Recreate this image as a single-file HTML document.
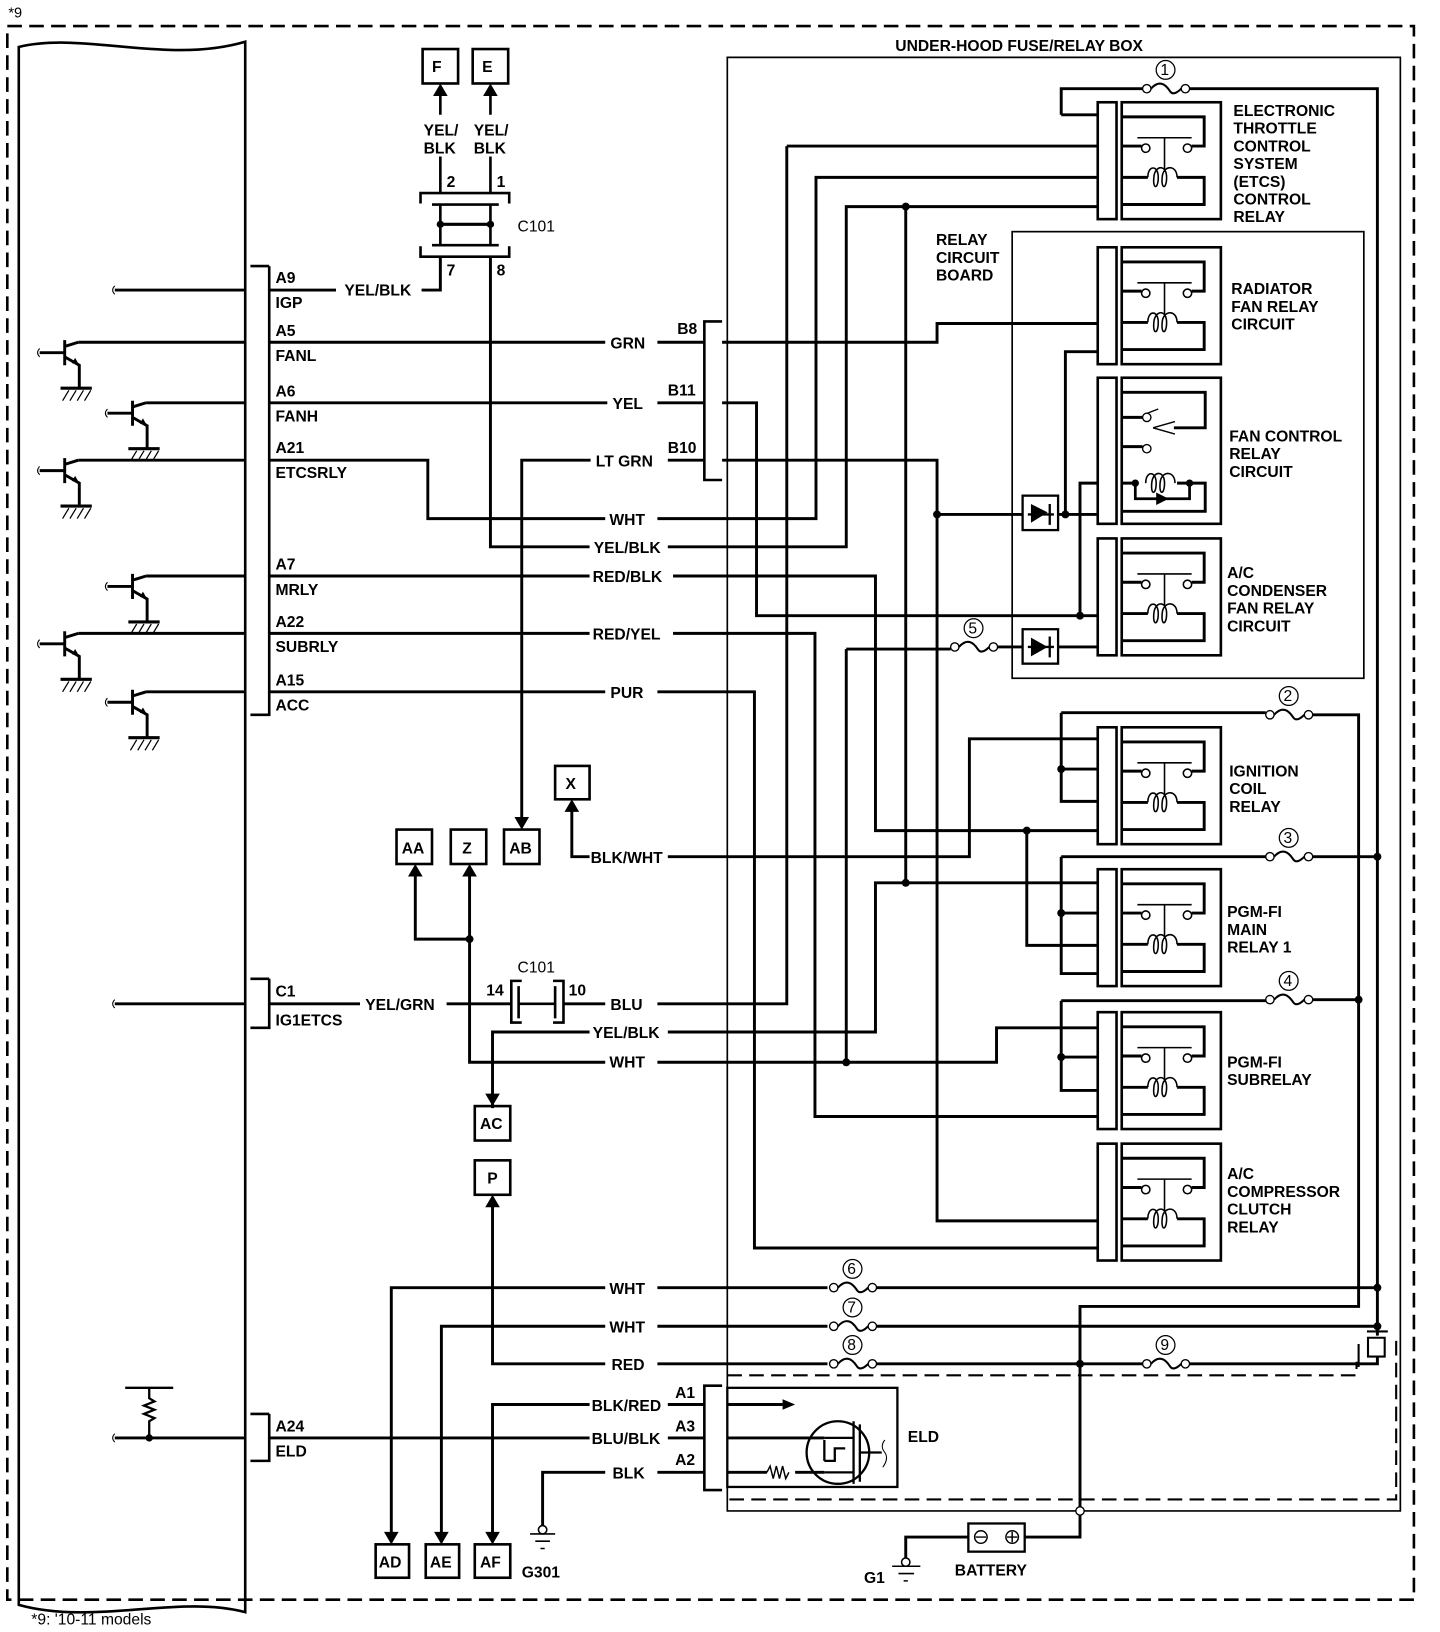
<!DOCTYPE html>
<html><head><meta charset="utf-8"><style>
html,body{margin:0;padding:0;background:#fff;}
svg{display:block;}
text{font-family:"Liberation Sans",Arial,sans-serif;font-size:15px;fill:#000;}
.t{font-weight:bold;}
</style></head><body>
<svg width="1440" height="1632" viewBox="0 0 1380 1564" preserveAspectRatio="none" xmlns="http://www.w3.org/2000/svg">
<defs>
<g id="relay">
 <rect x="-18" y="0" width="18" height="112" fill="none" stroke="#000" stroke-width="2.5"/>
 <rect x="5" y="0" width="95" height="112" fill="none" stroke="#000" stroke-width="2.5"/>
 <path d="M5,14 H84 V42 H72 M5,42 H24 M5,72 H30 M58,72 H84 V98 H5" fill="none" stroke="#000" stroke-width="2.8"/>
 <circle cx="28" cy="44" r="4" fill="#fff" stroke="#000" stroke-width="1.5"/>
 <circle cx="68" cy="44" r="4" fill="#fff" stroke="#000" stroke-width="1.5"/>
 <path d="M20,34 H72 M46,34 V64" stroke="#000" stroke-width="1.5" fill="none"/>
 <path d="M30,72 C30,60 40,60 40,72 C40,84 34,84 36,70 C38,60 48,60 48,72 C48,84 42,84 44,70 C46,60 58,60 58,72" fill="none" stroke="#000" stroke-width="1.5"/>
</g>
<g id="trans">
 <path d="M-24,10 H0 M0,-2 V22 M0,4 L13,0 M0,14 L14,22 V44" fill="none" stroke="#000" stroke-width="2.8"/>
 <path d="M-24,6 q-4,4 0,8" fill="none" stroke="#000" stroke-width="1"/>
 <path d="M14,22 l-7,-2 l3,-5 z" fill="#000"/>
 <path d="M-4,44 H26" stroke="#000" stroke-width="3"/>
 <path d="M-2,56 L4,46 M5,56 L11,46 M12,56 L18,46 M19,56 L25,46" stroke="#000" stroke-width="1.2"/>
</g>
<g id="fuse">
 <circle cx="4" cy="0" r="4" fill="#fff" stroke="#000" stroke-width="1.3"/>
 <circle cx="41" cy="0" r="4" fill="#fff" stroke="#000" stroke-width="1.3"/>
 <path d="M8,0 C16,-9 22,-4 26,2 C29,7 34,3 37,0" fill="none" stroke="#000" stroke-width="2"/>
 <circle cx="22" cy="-18" r="9" fill="none" stroke="#000" stroke-width="1.2"/>
</g>
</defs>

<!-- outer dashed frame -->
<text x="8" y="17" style="font-size:14px">*9</text>
<rect x="7" y="25" width="1348" height="1508" fill="none" stroke="#000" stroke-width="2.5" stroke-dasharray="14,7"/>
<text x="30" y="1557" style="font-size:15px">*9: '10-11 models</text>

<!-- ECM -->
<path d="M18,45 C80,30 160,62 235,40 V1545 C170,1528 90,1558 18,1538 Z" fill="none" stroke="#000" stroke-width="2.5"/>
<path d="M258,255 H240 M258,255 V685 H240" fill="none" stroke="#000" stroke-width="2.5"/>
<path d="M258,938 H240 M258,938 V985 H240" fill="none" stroke="#000" stroke-width="2.5"/>
<path d="M258,1355 H240 M258,1355 V1400 H240" fill="none" stroke="#000" stroke-width="2.5"/>

<g class="t">
<text x="264" y="271">A9</text><text x="264" y="295">IGP</text>
<text x="264" y="322">A5</text><text x="264" y="346">FANL</text>
<text x="264" y="380">A6</text><text x="264" y="404">FANH</text>
<text x="264" y="434">A21</text><text x="264" y="458">ETCSRLY</text>
<text x="264" y="546">A7</text><text x="264" y="570">MRLY</text>
<text x="264" y="601">A22</text><text x="264" y="625">SUBRLY</text>
<text x="264" y="657">A15</text><text x="264" y="681">ACC</text>
<text x="264" y="955">C1</text><text x="264" y="983">IG1ETCS</text>
<text x="264" y="1372">A24</text><text x="264" y="1396">ELD</text>
</g>

<use href="#trans" x="62" y="328"/>
<use href="#trans" x="127" y="386"/>
<use href="#trans" x="62" y="441"/>
<use href="#trans" x="127" y="552"/>
<use href="#trans" x="62" y="607"/>
<use href="#trans" x="127" y="663"/>
<path d="M110,274 q-4,4 0,8 M110,958 q-4,4 0,8 M110,1374 q-4,4 0,8" fill="none" stroke="#000" stroke-width="1"/>

<g fill="none" stroke="#000" stroke-width="2.8">
<!-- ECM wires -->
<path d="M110,278 H235 M258,278 H322 M404,278 H422 V246"/>
<path d="M75,328 H235 M258,328 H580 M630,328 H675"/>
<path d="M140,386 H235 M258,386 H582 M630,386 H675"/>
<path d="M75,441 H235 M258,441 H410 V497 H580 M630,497 H782 V170 H1052"/>
<path d="M500,790 V441 H566 M640,441 H675"/>
<path d="M470,246 V524 H565 M640,524 H811 V198 H1052"/>
<path d="M140,552 H235 M258,552 H565 M645,552 H839 V796 H1052"/>
<path d="M75,607 H235 M258,607 H565 M645,607 H781 V1070 H1052"/>
<path d="M140,663 H235 M258,663 H580 M630,663 H723 V1196 H1052"/>
<!-- box internal -->
<path d="M692,328 H898 V310 H1052"/>
<path d="M692,386 H725 V590 H1052"/>
<path d="M692,441 H898 V1170 H1052"/>
<path d="M898,493 H980 M1014,493 H1052 M1021,493 V337 H1052"/>
<path d="M1035,590 V463 H1052"/>
<path d="M754,140 H1052 M754,140 V962 H630"/>
<path d="M868,198 V846"/>
<path d="M1017,110 H1052 M1017,110 V85 H1095 M1140,85 H1320 V1280"/>
<path d="M811,622 V1018 M811,622 H911 M955,620 H980 M1014,620 H1052"/>
<path d="M984,796 V906 H1052"/>
<path d="M548,772 V821 H565 M640,821 H929 V708 H1052"/>
<path d="M472,1062 V989 H565 M640,989 H839 V846 H1052"/>
<path d="M450,835 V1018 H580 M630,1018 H955 V985 H1052"/>
<path d="M398,835 V900 H450"/>
<path d="M110,962 H235 M258,962 H345 M428,962 H490 M540,962 H580"/>
<path d="M472,1150 V1307 H580 M630,1307 H793 M840,1307 H1095 M1140,1307 H1320 V1300"/>
<path d="M375,1478 V1234 H580 M630,1234 H793 M840,1234 H1320"/>
<path d="M423,1478 V1271 H580 M630,1271 H793 M840,1271 H1320"/>
<path d="M1017,683 H1213 M1255,685 H1302 V1252 H1035 V1448"/>
<path d="M1017,683 V768 H1052 M1017,737 H1052"/>
<path d="M1017,821 H1213 M1255,821 H1320"/>
<path d="M1017,821 V933 H1052 M1017,875 H1052"/>
<path d="M1017,959 H1213 M1255,958 H1302"/>
<path d="M1017,959 V1045 H1052 M1017,1013 H1052"/>
<!-- ELD wires -->
<path d="M110,1378 H235 M258,1378 H565 M640,1378 H675 M697,1378 H790"/>
<path d="M472,1478 V1346 H565 M640,1346 H675 M697,1346 H750"/>
<path d="M520,1462 V1411 H580 M630,1411 H675 M697,1411 H735 M762,1411 H790"/>
<!-- battery -->
<path d="M982,1473 H1035 V1448 M928,1473 H868 V1493"/>
</g>

<!-- C101 top -->
<g fill="none" stroke="#000" stroke-width="2.5">
<rect x="405" y="47" width="34" height="33"/><rect x="453" y="47" width="34" height="33"/>
<path d="M422,110 V88 M470,110 V88 M422,150 V185 M470,150 V185 M422,196 V235 M470,196 V235"/>
<path d="M403,195 V185 H488 V195 M403,236 V246 H488 V236 M414,196 H478 M414,235 H478"/>
<path d="M422,215 H470" stroke-width="3"/>
</g>
<path d="M422,80 l-7,12 h14 z M470,80 l-7,12 h14 z" fill="#000"/>
<circle cx="422" cy="215" r="3.5"/><circle cx="470" cy="215" r="3.5"/>
<g class="t">
<text x="414" y="69">F</text><text x="462" y="69">E</text>
<text x="406" y="130">YEL/</text><text x="454" y="130">YEL/</text>
<text x="406" y="147">BLK</text><text x="454" y="147">BLK</text>
<text x="428" y="179">2</text><text x="476" y="179">1</text>
<text x="496" y="222" style="font-weight:normal">C101</text>
<text x="428" y="264">7</text><text x="476" y="264">8</text>
</g>

<!-- wire labels -->
<g class="t">
<text x="330" y="283">YEL/BLK</text>
<text x="585" y="334">GRN</text>
<text x="587" y="392">YEL</text>
<text x="571" y="447">LT GRN</text>
<text x="584" y="503">WHT</text>
<text x="569" y="530">YEL/BLK</text>
<text x="568" y="558">RED/BLK</text>
<text x="568" y="613">RED/YEL</text>
<text x="585" y="669">PUR</text>
<text x="649" y="320">B8</text><text x="640" y="379">B11</text><text x="640" y="434">B10</text>
<text x="566" y="827">BLK/WHT</text>
<text x="350" y="968">YEL/GRN</text>
<text x="585" y="968">BLU</text>
<text x="568" y="995">YEL/BLK</text>
<text x="584" y="1023">WHT</text>
<text x="584" y="1240">WHT</text>
<text x="584" y="1277">WHT</text>
<text x="586" y="1313">RED</text>
<text x="567" y="1352">BLK/RED</text>
<text x="567" y="1384">BLU/BLK</text>
<text x="587" y="1417">BLK</text>
<text x="647" y="1340">A1</text><text x="647" y="1372">A3</text><text x="647" y="1404">A2</text>
<text x="466" y="954">14</text><text x="545" y="954">10</text>
<text x="496" y="932" style="font-weight:normal">C101</text>
</g>
<!-- B connector bracket -->
<path d="M692,308 H675 V460 H692" fill="none" stroke="#000" stroke-width="2.5"/>
<!-- C101 lower -->
<path d="M500,940 H490 V980 H500 M530,940 H540 V980 H530 M497,945 V976 M532,945 V976 M497,962 H532" fill="none" stroke="#000" stroke-width="2.5"/>

<!-- small boxes -->
<g fill="none" stroke="#000" stroke-width="2.5">
<rect x="380" y="795" width="34" height="33"/><rect x="432" y="795" width="34" height="33"/><rect x="483" y="795" width="34" height="33"/>
<rect x="532" y="734" width="33" height="32"/>
<rect x="455" y="1060" width="34" height="33"/><rect x="455" y="1112" width="34" height="33"/>
<rect x="360" y="1480" width="32" height="32"/><rect x="408" y="1480" width="32" height="32"/><rect x="455" y="1480" width="34" height="32"/>
</g>
<path d="M398,828 l-7,12 h14 z M450,828 l-7,12 h14 z M500,795 l-7,-12 h14 z M548,766 l-7,12 h14 z M472,1060 l-7,-12 h14 z M472,1145 l-7,12 h14 z M375,1480 l-7,-12 h14 z M423,1480 l-7,-12 h14 z M472,1480 l-7,-12 h14 z" fill="#000"/>
<g class="t">
<text x="385" y="818">AA</text><text x="443" y="818">Z</text><text x="488" y="818">AB</text>
<text x="542" y="756">X</text>
<text x="460" y="1082">AC</text><text x="467" y="1134">P</text>
<text x="363" y="1502">AD</text><text x="412" y="1502">AE</text><text x="460" y="1502">AF</text>
<text x="500" y="1512">G301</text>
</g>
<!-- grounds -->
<g fill="none" stroke="#000" stroke-width="1.5">
<circle cx="520" cy="1466" r="4" fill="#fff"/><path d="M508,1470 H532 M513,1477 H527 M518,1484 H522"/>
<circle cx="868" cy="1497" r="4" fill="#fff"/><path d="M855,1501 H882 M861,1508 H876 M866,1515 H870"/>
</g>
<text x="828" y="1517" class="t">G1</text>

<!-- ECM ELD resistor -->
<path d="M120,1330 H166 M143,1330 V1340 l5,3 l-10,4 l10,4 l-10,4 l10,4 l-5,3 V1378" fill="none" stroke="#000" stroke-width="2.2"/>
<circle cx="143" cy="1378" r="3.5"/>

<!-- fuse box outline -->
<path d="M697,55 H1342 V1448 H697 Z" fill="none" stroke="#000" stroke-width="1.6"/>
<text x="858" y="49" class="t">UNDER-HOOD FUSE/RELAY BOX</text>
<rect x="970" y="222" width="337" height="428" fill="none" stroke="#000" stroke-width="1.6"/>
<g class="t"><text x="897" y="235">RELAY</text><text x="897" y="252">CIRCUIT</text><text x="897" y="269">BOARD</text></g>
<path d="M697,1318 H1300 V1305 M1338,1285 V1437 H697" fill="none" stroke="#000" stroke-width="2" stroke-dasharray="14,7"/>

<!-- relays -->
<use href="#relay" x="1070" y="98"/>
<use href="#relay" x="1070" y="237"/>
<use href="#relay" x="1070" y="516"/>
<use href="#relay" x="1070" y="697"/>
<use href="#relay" x="1070" y="833"/>
<use href="#relay" x="1070" y="970"/>
<use href="#relay" x="1070" y="1096"/>
<!-- fan control relay (special) -->
<g fill="none" stroke="#000" stroke-width="2.5">
<rect x="1052" y="362" width="18" height="140"/>
<rect x="1075" y="362" width="95" height="140"/>
<path d="M1075,376 H1155 V410 H1125 M1075,400 H1095 M1075,428 H1095 M1075,463 H1090 M1128,463 H1155 V490 H1075" stroke-width="2.8"/>
<path d="M1088,463 V478 H1140 V463" stroke-width="2.6"/>
<path d="M1097,397 L1110,392 M1105,410 L1126,404 M1105,410 L1126,416" stroke-width="1.3"/>
<circle cx="1099" cy="400" r="4" fill="#fff" stroke-width="1.3"/>
<circle cx="1099" cy="430" r="4" fill="#fff" stroke-width="1.3"/>
<path d="M1098,463 C1098,451 1108,451 1108,463 C1108,475 1102,475 1104,461 C1106,451 1116,451 1116,463 C1116,475 1110,475 1112,461 C1114,451 1126,451 1126,463" stroke-width="1.5"/>
</g>
<path d="M1108,472 l12,6 l-12,6 z" fill="#000"/>
<circle cx="1088" cy="463" r="3.5"/><circle cx="1140" cy="463" r="3.5"/>

<!-- diodes -->
<g fill="none" stroke="#000" stroke-width="2.2">
<rect x="980" y="475" width="34" height="33"/><rect x="980" y="603" width="34" height="33"/>
<path d="M985,493 H1010 M1006,483 V503 M985,620 H1010 M1006,610 V630"/>
</g>
<path d="M988,483 L1004,491 L988,501 z M988,611 L1004,620 L988,629 z" fill="#000"/>

<!-- fuses -->
<use href="#fuse" x="1095" y="85"/>
<use href="#fuse" x="911" y="620"/>
<use href="#fuse" x="1213" y="685"/>
<use href="#fuse" x="1213" y="821"/>
<use href="#fuse" x="1213" y="958"/>
<use href="#fuse" x="795" y="1234"/>
<use href="#fuse" x="795" y="1271"/>
<use href="#fuse" x="795" y="1307"/>
<use href="#fuse" x="1095" y="1307"/>
<g style="font-size:14px;font-family:'Liberation Serif',serif">
<text x="1112" y="72">1</text><text x="928" y="607">5</text><text x="1230" y="672">2</text>
<text x="1230" y="808">3</text><text x="1230" y="945">4</text><text x="812" y="1221">6</text>
<text x="812" y="1258">7</text><text x="812" y="1294">8</text><text x="1112" y="1294">9</text>
</g>

<!-- dots -->
<g fill="#000">
<circle cx="868" cy="198" r="3.8"/><circle cx="868" cy="846" r="3.8"/>
<circle cx="898" cy="493" r="3.8"/><circle cx="1021" cy="493" r="3.8"/>
<circle cx="1035" cy="590" r="3.8"/><circle cx="984" cy="796" r="3.8"/>
<circle cx="811" cy="1018" r="3.8"/><circle cx="450" cy="900" r="3.8"/>
<circle cx="1017" cy="737" r="3.8"/><circle cx="1017" cy="875" r="3.8"/><circle cx="1017" cy="1013" r="3.8"/>
<circle cx="1320" cy="821" r="3.8"/><circle cx="1302" cy="958" r="3.8"/>
<circle cx="1320" cy="1234" r="3.8"/><circle cx="1320" cy="1271" r="3.8"/>
<circle cx="1035" cy="1307" r="3.8"/>
</g>
<circle cx="1035" cy="1448" r="4" fill="#fff" stroke="#000" stroke-width="1.3"/>
<!-- connector near 9 -->
<path d="M1310,1276 H1330 M1311,1282 H1327 V1300 H1311 Z M1302,1288 V1310" fill="none" stroke="#000" stroke-width="2"/>

<!-- ELD -->
<path d="M692,1328 H675 V1428 H692" fill="none" stroke="#000" stroke-width="2.5"/>
<rect x="697" y="1330" width="163" height="95" fill="none" stroke="#000" stroke-width="2.2"/>
<path d="M750,1346 l-12,-5 v10 z" fill="#000" transform="translate(12,0)"/>
<path d="M735,1411 l3,-6 l3,12 l3,-12 l3,12 l3,-12 l3,12 l3,-6" fill="none" stroke="#000" stroke-width="1.4"/>
<circle cx="803" cy="1392" r="30" fill="none" stroke="#000" stroke-width="2.2"/>
<path d="M790,1378 H818 M790,1411 H818 M818,1362 V1422 M824,1365 V1420 M824,1392 H845 M790,1380 V1400 M790,1400 H800 V1388 H810" fill="none" stroke="#000" stroke-width="2.2"/>
<path d="M848,1380 q-5,6 0,12 q4,6 -2,14" fill="none" stroke="#000" stroke-width="1"/>
<text x="870" y="1382" class="t">ELD</text>

<!-- battery -->
<rect x="928" y="1460" width="54" height="27" fill="none" stroke="#000" stroke-width="2.2"/>
<circle cx="940" cy="1473" r="6" fill="none" stroke="#000" stroke-width="1.4"/>
<circle cx="970" cy="1473" r="6" fill="none" stroke="#000" stroke-width="1.4"/>
<path d="M935,1473 H945 M965,1473 H975 M970,1468 V1478" stroke="#000" stroke-width="1.4"/>
<text x="915" y="1510" class="t">BATTERY</text>

<!-- relay labels -->
<g class="t">
<text x="1182" y="111">ELECTRONIC</text><text x="1182" y="128">THROTTLE</text><text x="1182" y="145">CONTROL</text>
<text x="1182" y="162">SYSTEM</text><text x="1182" y="179">(ETCS)</text><text x="1182" y="196">CONTROL</text><text x="1182" y="213">RELAY</text>
<text x="1180" y="282">RADIATOR</text><text x="1180" y="299">FAN RELAY</text><text x="1180" y="316">CIRCUIT</text>
<text x="1178" y="423">FAN CONTROL</text><text x="1178" y="440">RELAY</text><text x="1178" y="457">CIRCUIT</text>
<text x="1176" y="554">A/C</text><text x="1176" y="571">CONDENSER</text><text x="1176" y="588">FAN RELAY</text><text x="1176" y="605">CIRCUIT</text>
<text x="1178" y="744">IGNITION</text><text x="1178" y="761">COIL</text><text x="1178" y="778">RELAY</text>
<text x="1176" y="879">PGM-FI</text><text x="1176" y="896">MAIN</text><text x="1176" y="913">RELAY 1</text>
<text x="1176" y="1023">PGM-FI</text><text x="1176" y="1040">SUBRELAY</text>
<text x="1176" y="1130">A/C</text><text x="1176" y="1147">COMPRESSOR</text><text x="1176" y="1164">CLUTCH</text><text x="1176" y="1181">RELAY</text>
</g>
</svg>
</body></html>
